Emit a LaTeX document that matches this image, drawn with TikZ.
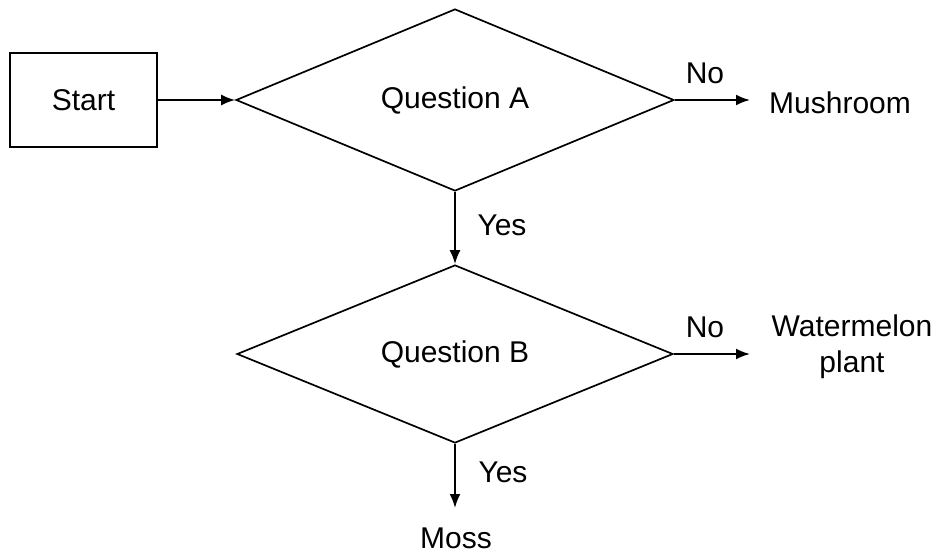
\documentclass[tikz,border=0pt]{standalone}
\usepackage{fontspec}
\setmainfont{Liberation Sans}
\usetikzlibrary{shapes.geometric,arrows.meta}
\begin{document}
\begin{tikzpicture}[x=1pt,y=-1pt,
  lbl/.style={inner sep=0pt,font=\fontsize{30}{36}\selectfont},
  box/.style={draw,line width=1.8pt,minimum width=147pt,minimum height=94pt,inner sep=0pt,font=\fontsize{30}{36}\selectfont},
  dia/.style={draw,diamond,line width=1.7pt,inner sep=0pt,font=\fontsize{30}{36}\selectfont},
  arr/.style={line width=2pt,-{Latex[length=14pt,width=11pt]}}]
\useasboundingbox (0,0) rectangle (939,553);
\node[box] (start) at (83.5,100) {Start};
\node[dia,minimum width=438pt,minimum height=182pt] (A) at (455,100) {Question A};
\node[dia,minimum width=436pt,minimum height=178pt] (B) at (455,354) {Question B};
\node[lbl,anchor=west] (mush) at (769,103) {Mushroom};
\node[lbl,align=center] (water) at (852,347) {Watermelon\\plant};
\node[lbl] (moss) at (456,538) {Moss};
\node[lbl] (noA) at (705,73) {No};
\node[lbl] (noB) at (705,327) {No};
\node[lbl] (yesA) at (502,225) {Yes};
\node[lbl] (yesB) at (503,472) {Yes};
\coordinate (mushend) at (750,100);
\coordinate (waterend) at (750,354);
\coordinate (mossend) at (455,508);
\draw[arr] (start.east) -- (A.west);
\draw[arr] (A.east) -- (mushend);
\draw[arr] (A.south) -- (B.north);
\draw[arr] (B.east) -- (waterend);
\draw[arr] (B.south) -- (mossend);
\end{tikzpicture}
\end{document}
